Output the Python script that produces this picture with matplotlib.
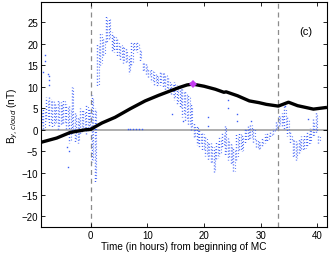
import numpy as np
import matplotlib
matplotlib.use("Agg")
import matplotlib.pyplot as plt

plt.rcParams['font.family'] = ['Liberation Sans', 'DejaVu Sans']

# B_y spread per half-hour bin (lower / upper edge of the point cloud)
t_bin = np.arange(-8.75, 40.5, 0.5)
y_lo = [1, 0, 2, 1, 0.5, 1.5, 0, 1, 1.5, 0,
        -3, -1, -3, -3, -1, -0.5, -1, 0, -7.5, -12,
        10, 15, 17, 20, 21, 18, 18, 17, 16, 15.5,
        15.5, 13, 15, 18.2, 18, 16, 13.5, 13, 12, 11,
        10.5, 10, 10.5, 10, 9, 9, 8, 7, 6, 5,
        3, 2, 1, 0, -2, -3.5, -4, -5, -6, -7,
        -8, -9.7, -7, -6, -4, -6, -7, -8, -10, -7,
        -5, -5, -3, -2.5, -2, -3, -4.5, -4.5, -4, -3,
        -2.5, -2, -1, 0, 0.5, 1, 0, -1.5, -3, -6.5,
        -7, -5.5, -5, -4.5, -4, -3, -1.5, -1, -3]
y_hi = [4.5, 5, 7.5, 7.5, 7, 6, 7, 6.5, 7, 6,
        5.5, 10, 4, 3, 5, 4.5, 6, 5, 8, 5,
        20, 22.5, 21, 26.3, 26, 22.6, 22, 21, 20, 19.5,
        19, 17, 20.5, 20.6, 20.5, 19, 16, 15.5, 14, 14,
        13.5, 13, 13.5, 13.5, 13, 12, 11, 11, 10.5, 10,
        9.5, 9, 8, 6, 1.5, 1, 0, -0.5, -1.5, -2.5,
        -3, -4, -2.5, -1.5, -0.5, 1, -2, -3, -4, -1,
        -0.5, -1, 0.5, 1, 1.5, 0.5, -2, -2.5, -2, -1,
        -0.5, 0, 0.5, 2, 3.5, 4, 5.5, 3, -0.5, -2,
        -2.5, -2, -1.5, -1, -0.5, 0.5, 2.5, 4.3, -1]

# isolated points outside the main cloud
out_t = [-8.5, -8.1, -8.0, -7.45, -7.4, -7.3, -7.35, -4.0, -3.9, -4.1,
         6.5, 7.0, 7.5, 8.0, 8.5, 9.0, 14.4, 16.3, 20.7, 20.7,
         24.2, 24.2, 25.9, 25.9, 28.3, 34.2, 38.4]
out_y = [13.4, 17.3, 15.9, 12.9, 12.5, 11.5, 10.5, -8.6, -5, -4,
         0.2, 0.2, 0.2, 0.2, 0.2, 0.2, 3.7, 2, 3, 1,
         7, 5, 3.6, 2, 2, 5.5, 2.4]

# cumulative curve (black)
line_t = [-8.8, -6, -3.6, -1, 0, 0.9, 2, 4.3, 7, 9.6, 12, 15.6, 17, 18,
          20, 22, 23.5, 23.9, 25.9, 28, 29.7, 31, 33.1, 34.9, 36.5, 39.3, 41.7]
line_y = [-2.9, -1.9, -0.6, 0, 0.1, 0.8, 1.6, 2.9, 4.9, 6.7, 8.0, 9.8, 10.4, 10.6,
          10.1, 9.4, 8.7, 8.8, 7.9, 6.7, 6.3, 5.9, 5.5, 6.4, 5.6, 4.8, 5.2]

peak_t = [18]
peak_y = [10.6]

x_ticks = [0, 10, 20, 30, 40]
y_ticks = [-20, -15, -10, -5, 0, 5, 10, 15, 20, 25]
mc_bounds = [0, 33.1]

blue = '#3a5cf7'

fig = plt.figure(figsize=(3.32, 2.55), dpi=100)
ax = fig.add_axes([0.123, 0.106, 0.862, 0.882])

ax.axhline(0, color='#a8a8a8', lw=1.3, zorder=1)
for xb in mc_bounds:
    ax.axvline(xb, color='#8c8c8c', lw=0.9, ls=(0, (4, 3)), zorder=1)

# stagger the dot phase from column to column so the cloud looks scattered
n = len(t_bin)
styles_a = [((k * 1.37) % 2.2, (0.7, 1.5)) for k in range(n)]
styles_b = [((k * 0.83 + 1.1) % 2.6, (0.7, 1.9)) for k in range(n)]
ax.vlines(t_bin - 0.08, y_lo, y_hi, colors=blue, lw=1.0, linestyles=styles_a, zorder=2)
ax.vlines(t_bin + 0.2, np.array(y_lo) + 0.4, np.array(y_hi) - 0.4, colors=blue,
          lw=0.8, linestyles=styles_b, zorder=2)
ax.plot(out_t, out_y, 's', color=blue, ms=1.0, mew=0, zorder=2)

ax.plot(line_t, line_y, color='black', lw=2.4, zorder=3, solid_capstyle='butt')
ax.plot(peak_t, peak_y, 'D', color='#c43cf0', ms=4, mew=0, zorder=4)

ax.set_xlim(-8.8, 41.7)
ax.set_ylim(-22.5, 29.6)
ax.set_xticks(x_ticks)
ax.set_yticks(y_ticks)
ax.set_yticklabels([str(v).replace('-', '\u2212') for v in y_ticks])
ax.tick_params(direction='in', length=3, width=0.6, labelsize=7, pad=2,
               top=True, right=True)
for s in ax.spines.values():
    s.set_linewidth(0.8)

ax.set_xlabel('Time (in hours) from beginning of MC', fontsize=7.2, labelpad=1)
ax.set_ylabel(r'B$_{y,cloud}$ (nT)', fontsize=7.2, labelpad=1)
ax.text(38.0, 22.9, '(c)', fontsize=8, ha='center', va='center')

fig.savefig('out.png', dpi=100)
